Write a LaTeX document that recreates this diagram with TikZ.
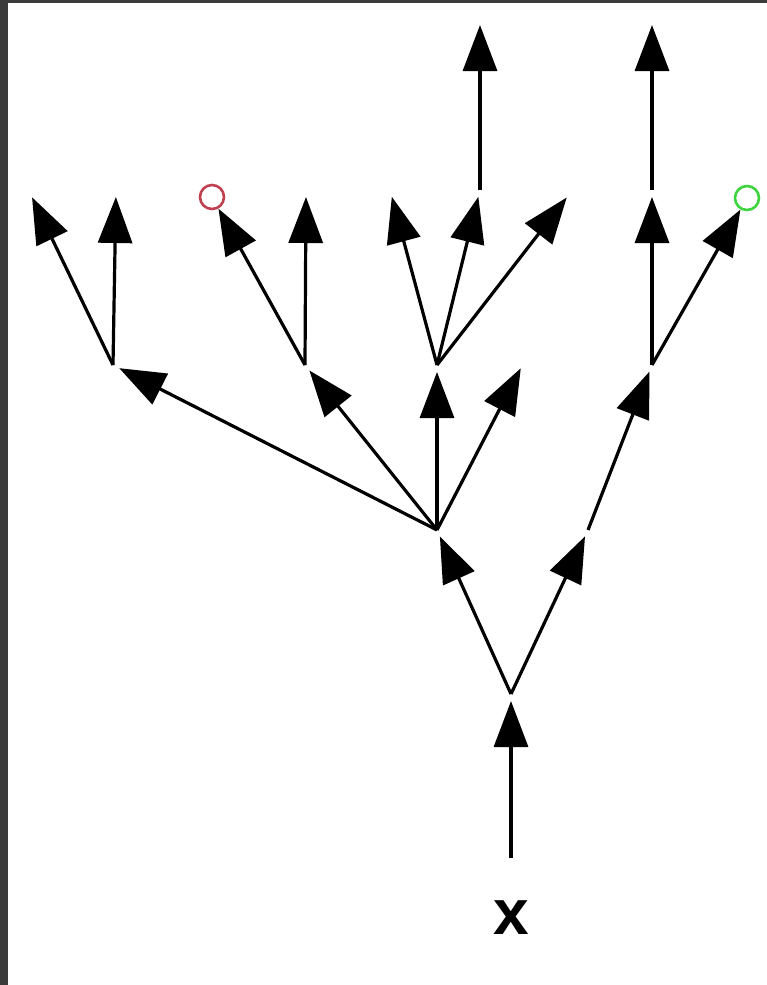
\documentclass[tikz,border=0pt]{standalone}
\usepackage{fontspec}
\setmainfont{Liberation Sans}
\usetikzlibrary{arrows.meta}
\definecolor{frame}{HTML}{3B3B3B}
\definecolor{redring}{HTML}{C0404F}
\definecolor{greenring}{HTML}{3ED43E}
\begin{document}
\begin{tikzpicture}[x=1pt,y=-1pt,
  edge/.style={line width=3.2pt,-{Triangle[length=46pt,width=34pt]},shorten >=7pt},
  ring/.style={circle,line width=2.6pt,minimum size=24pt,inner sep=0pt},
  lbl/.style={font=\bfseries\fontsize{64}{70}\selectfont,inner sep=0pt}]
% canvas and frame
\fill[white] (0,0) rectangle (767,985);
\fill[frame] (0,0) rectangle (8,985);
\fill[frame] (0,0) rectangle (767,3);
\useasboundingbox (0,0) rectangle (767,985);
% label
\node[lbl] (X) at (511,918) {x};
% junctions
\coordinate (R) at (511,858);
\coordinate (A) at (511,694);
\coordinate (B) at (437,530);
\coordinate (C) at (588,530);
\coordinate (D) at (113,365);
\coordinate (E) at (305,365);
\coordinate (F) at (437,365);
\coordinate (G) at (524,362);
\coordinate (H) at (652,365);
\coordinate (D1) at (29,191);
\coordinate (D2) at (116,190);
\node[ring,draw=redring] (E1) at (212,197) {};
\coordinate (E2) at (306,190);
\coordinate (F1) at (390,190);
\coordinate (F2) at (480,190);
\coordinate (F3) at (571,192);
\coordinate (H1) at (652,190);
\node[ring,draw=greenring] (H2) at (747,198) {};
\coordinate (T1) at (480,18);
\coordinate (T2) at (652,18);
% connectors
\draw[edge] (R) -- (A);
\draw[edge] (A) -- (B);
\draw[edge] (A) -- (C);
\draw[edge] (B) -- (D);
\draw[edge] (B) -- (E);
\draw[edge] (B) -- (F);
\draw[edge] (B) -- (G);
\draw[edge] (C) -- (H);
\draw[edge] (D) -- (D1);
\draw[edge] (D) -- (D2);
\draw[edge,shorten >=0pt] (E) -- (E1);
\draw[edge] (E) -- (E2);
\draw[edge] (F) -- (F1);
\draw[edge] (F) -- (F2);
\draw[edge] (F) -- (F3);
\draw[edge] (H) -- (H1);
\draw[edge,shorten >=0pt] (H) -- (H2);
\draw[edge] (F2) -- (T1);
\draw[edge] (H1) -- (T2);
\end{tikzpicture}
\end{document}
